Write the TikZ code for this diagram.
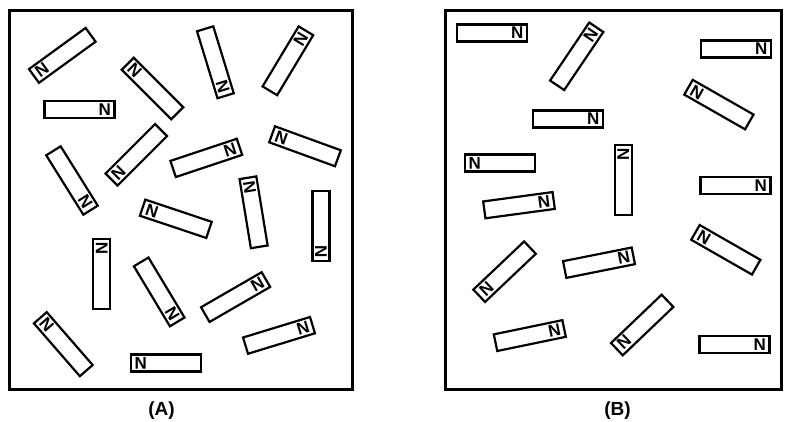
\documentclass[tikz,border=0pt]{standalone}
\usepackage{fontspec}
\newfontfamily\labfont{Liberation Sans}
\usetikzlibrary{calc}
\tikzset{
  magnet/.style={draw, line width=2.2pt, rectangle, minimum width=70pt, minimum height=17pt, inner sep=0pt, outer sep=0pt},
  nletter/.style={inner sep=0pt, font=\labfont\bfseries\fontsize{17}{17}\selectfont},
  frame/.style={draw, line width=3pt},
  caption/.style={inner sep=0pt, font=\labfont\bfseries\fontsize{19}{19}\selectfont}
}
\newcommand\barmagnet[4]{%
  \node[magnet, rotate=#4] (#1) at (#2,{422-#3}) {};
  \node[nletter, rotate=#4] (#1n) at ($(#1.center)!0.72!(#1.east)$) {N};
}
\begin{document}
\begin{tikzpicture}[x=1pt,y=1pt]
\useasboundingbox (0,0) rectangle (785,422);
% frames
\draw[frame] (9,{422-10.5}) rectangle (352,{422-390});
\draw[frame] (445,{422-11}) rectangle (781,{422-390});
% panel A
\barmagnet{a1}{62.3}{55.4}{216}
\barmagnet{a2}{79.5}{109.5}{0}
\barmagnet{a3}{152.5}{88.5}{135}
\barmagnet{a4}{136.3}{154.8}{225}
\barmagnet{a5}{72}{180.5}{-58}
\barmagnet{a6}{215.4}{62.3}{-73}
\barmagnet{a7}{287.9}{60.8}{59}
\barmagnet{a8}{305}{146.3}{160}
\barmagnet{a9}{206.3}{157.9}{18.4}
\barmagnet{a10}{253.6}{212.3}{99.3}
\barmagnet{a11}{321}{226}{-90}
\barmagnet{a12}{235.6}{297.1}{30}
\barmagnet{a13}{279}{335.4}{17}
\barmagnet{a14}{166}{363}{180}
\barmagnet{a15}{63.3}{344.2}{131}
\barmagnet{a16}{101.7}{273.8}{90}
\barmagnet{a17}{159.2}{291.9}{-59}
\barmagnet{a18}{175.8}{218.8}{161.5}
% panel B
\barmagnet{b1}{492}{33}{0}
\barmagnet{b2}{576.7}{56.3}{56}
\barmagnet{b3}{568}{119}{0}
\barmagnet{b4}{500}{163}{180}
\barmagnet{b5}{519}{205.2}{7.7}
\barmagnet{b6}{736}{49}{0}
\barmagnet{b7}{718.9}{104.6}{150.3}
\barmagnet{b8}{623.3}{180}{90}
\barmagnet{b9}{735.5}{185.5}{0}
\barmagnet{b10}{504.6}{271.7}{223.5}
\barmagnet{b11}{599}{262.7}{11.3}
\barmagnet{b12}{529.8}{335.6}{11.7}
\barmagnet{b13}{725.8}{249.8}{150.2}
\barmagnet{b14}{642.2}{325}{223.7}
\barmagnet{b15}{734.5}{344.5}{0}
% captions
\node[caption] (capA) at (161.5,{422-410.5}) {(A)};
\node[caption] (capB) at (617.5,{422-410.5}) {(B)};
\end{tikzpicture}
\end{document}
